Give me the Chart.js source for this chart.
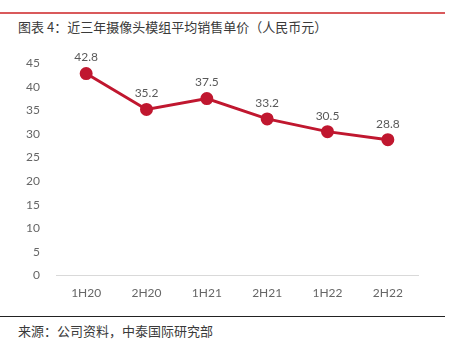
<!DOCTYPE html>
<html>
<head>
<meta charset="utf-8">
<script src="https://cdn.jsdelivr.net/npm/chart.js@4"></script>
<style>
body { margin: 0; background: #fff; width: 451px; height: 346px; overflow: hidden; position: relative; }
#topline { position: absolute; left: 0; top: 12px; width: 445px; height: 2px; background: #d9595b; }
#title { position: absolute; left: 18px; top: 17px; font: 13px "Noto Sans CJK SC", sans-serif; color: #3a3a3a; white-space: pre; }
#box { position: absolute; left: 0; top: 40px; width: 451px; height: 280px; }
#bottomline { position: absolute; left: 0; top: 316px; width: 445px; height: 1px; background: #222; }
#source { position: absolute; left: 18px; top: 321px; font: 13px "Noto Sans CJK SC", sans-serif; color: #3a3a3a; white-space: nowrap; }
</style>
</head>
<body>
<div id="topline"></div>
<div id="title">图表 4：近三年摄像头模组平均销售单价（人民币元）</div>
<div id="bottomline"></div>
<div id="source">来源：公司资料，中泰国际研究部</div>
<div id="box"><canvas id="chart"></canvas></div>
<script>
const periods = ["1H20", "2H20", "1H21", "2H21", "1H22", "2H22"];
const prices = [42.8, 35.2, 37.5, 33.2, 30.5, 28.8];
const yTicks = [0, 5, 10, 15, 20, 25, 30, 35, 40, 45];

// write each value above its point
const valueLabels = {
  id: 'valueLabels',
  afterDatasetsDraw(chart) {
    const ctx = chart.ctx;
    const meta = chart.getDatasetMeta(0);
    ctx.save();
    ctx.font = '12px Lato, sans-serif';
    ctx.fillStyle = '#595959';
    ctx.textAlign = 'center';
    ctx.textBaseline = 'middle';
    meta.data.forEach((pt, i) => {
      ctx.fillText(prices[i].toFixed(1), pt.x, pt.y - 16);
    });
    ctx.restore();
  }
};

const ctx = document.getElementById('chart').getContext('2d');
new Chart(ctx, {
  type: 'line',
  data: {
    labels: periods,
    datasets: [{
      data: prices,
      borderColor: '#c0172f',
      backgroundColor: '#c0172f',
      borderWidth: 3,
      pointRadius: 5,
      pointHoverRadius: 5,
      tension: 0
    }]
  },
  options: {
    responsive: true,
    maintainAspectRatio: false,
    animation: false,
    layout: { padding: { top: 2, right: 33, bottom: 10, left: 0 } },
    plugins: { legend: { display: false }, tooltip: { enabled: false } },
    scales: {
      x: {
        offset: true,
        grid: { display: false, drawTicks: false },
        border: { color: '#d9d9d9', width: 1 },
        ticks: { color: '#666', font: { family: 'Lato', size: 12 }, padding: 10 }
      },
      y: {
        min: 0,
        max: 45,
        afterBuildTicks: axis => { axis.ticks = yTicks.map(v => ({ value: v })); },
        afterFit: axis => { axis.width = 56; },
        grid: { display: false, drawTicks: false },
        border: { display: false },
        ticks: { color: '#666', font: { family: 'Lato', size: 12 }, padding: 16 }
      }
    }
  },
  plugins: [valueLabels]
});
</script>
</body>
</html>
